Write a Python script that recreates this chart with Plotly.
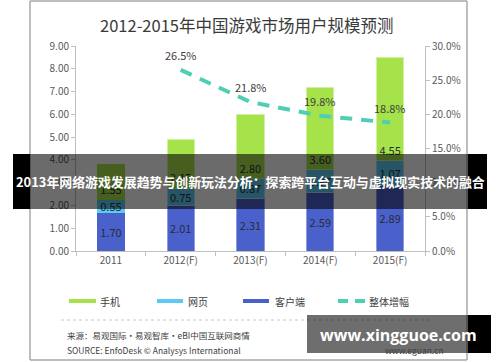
import plotly.graph_objects as go

categories = ["2011", "2012(F)", "2013(F)", "2014(F)", "2015(F)"]
client = [1.70, 2.01, 2.31, 2.59, 2.89]
web = [0.55, 0.75, 0.87, 0.97, 1.07]
mobile = [1.55, 2.15, 2.80, 3.60, 4.55]
growth_cats = ["2012(F)", "2013(F)", "2014(F)", "2015(F)"]
growth = [26.5, 21.8, 19.8, 18.8]
series_names = ["手机", "网页", "客户端", "整体增幅"]

title = "2012-2015年中国游戏市场用户规模预测"
banner = "2013年网络游戏发展趋势与创新玩法分析：探索跨平台互动与虚拟现实技术的融合"
source_cn = "来源：易观国际·易观智库·eBI中国互联网商情"
source_en = "SOURCE: EnfoDesk © Analysys International"
site = "www.eguan.cn"
watermark = "www.xingguoe.com"

C_MOBILE = "#A6E34B"
C_WEB = "#5CCBF1"
C_CLIENT = "#4A61CB"
C_LINE = "#4FCFB1"
FONT = "Noto Sans CJK SC, Noto Sans, sans-serif"

W, H = 500, 362
L, R, T, B = 76, 75, 46, 111
PW, PH = W - L - R, H - T - B


def X(px):
    return (px - L) / PW


def Y(py):
    return (H - B - py) / PH


fig = go.Figure()
lab_font = dict(size=11, color="#2b2b38", family=FONT)


def outline(c, light):
    return [c] + [light] * (len(categories) - 1)


fig.add_trace(go.Bar(x=categories, y=client, name=series_names[2], marker_color=C_CLIENT,
                     marker_line=dict(color=outline(C_CLIENT, "#8d9be0"), width=1),
                     text=[f"{v:.2f}" for v in client], textposition="inside", textangle=0,
                     insidetextanchor="middle", textfont=lab_font, showlegend=False))
fig.add_trace(go.Bar(x=categories, y=web, name=series_names[1], marker_color=C_WEB,
                     marker_line=dict(color=outline(C_WEB, "#a6e3f7"), width=1),
                     text=[f"{v:.2f}" for v in web], textposition="inside", textangle=0,
                     insidetextanchor="middle", textfont=lab_font, showlegend=False))
fig.add_trace(go.Bar(x=categories, y=mobile, name=series_names[0], marker_color=C_MOBILE,
                     marker_line=dict(color=outline(C_MOBILE, "#d2f19f"), width=1),
                     text=[f"{v:.2f}" for v in mobile], textposition="inside", textangle=0,
                     insidetextanchor="start", textfont=lab_font, showlegend=False))
fig.add_trace(go.Scatter(x=growth_cats, y=growth, yaxis="y2", name=series_names[3],
                         mode="lines", line=dict(color=C_LINE, width=4, dash="12px,9px"),
                         showlegend=False, cliponaxis=False))

shapes = []
annotations = []

for c, v in zip(growth_cats, growth):
    annotations.append(dict(x=c, y=v, xref="x", yref="y2", text=f"{v:.1f}%", showarrow=False,
                            yshift=15, xanchor="center", yanchor="middle",
                            font=dict(size=11, color="#404040", family=FONT)))

# frame
for x0, y0, x1, y1 in [(30, 1, 467, 1), (30, 360, 467, 360), (30, 1, 30, 360), (467, 1, 467, 360)]:
    shapes.append(dict(type="line", xref="paper", yref="paper", x0=X(x0), y0=Y(y0), x1=X(x1), y1=Y(y1),
                       line=dict(color="#a8a8a8", width=1.5), layer="above"))

# legend
leg = [(69, 96, C_MOBILE, 98), (157, 183, C_WEB, 186), (243, 269, C_CLIENT, 273)]
for i, (a, b, c, tx) in enumerate(leg):
    shapes.append(dict(type="line", xref="paper", yref="paper", x0=X(a), x1=X(b), y0=Y(301), y1=Y(301),
                       line=dict(color=c, width=4)))
    annotations.append(dict(x=X(tx), y=Y(301), xref="paper", yref="paper", text=series_names[i],
                            showarrow=False, xanchor="left", yanchor="middle",
                            font=dict(size=10, color="#404040", family=FONT)))
for a, b in [(338, 348), (355, 365)]:
    shapes.append(dict(type="line", xref="paper", yref="paper", x0=X(a), x1=X(b), y0=Y(301), y1=Y(301),
                       line=dict(color=C_LINE, width=4)))
annotations.append(dict(x=X(367), y=Y(301), xref="paper", yref="paper", text=series_names[3],
                        showarrow=False, xanchor="left", yanchor="middle",
                        font=dict(size=10, color="#404040", family=FONT)))

# separator
shapes.append(dict(type="line", xref="paper", yref="paper", x0=X(61), x1=X(430), y0=Y(320), y1=Y(320),
                   line=dict(color="#c8c8c8", width=1, dash="dot")))

# title & source
annotations.append(dict(x=X(247), y=Y(25), xref="paper", yref="paper", text=title, showarrow=False,
                        xanchor="center", yanchor="middle", font=dict(size=16.5, color="#3a3a3a", family=FONT)))
annotations.append(dict(x=X(65), y=Y(335), xref="paper", yref="paper", text=source_cn, showarrow=False,
                        xanchor="left", yanchor="middle", font=dict(size=8.5, color="#404040", family=FONT)))
annotations.append(dict(x=X(65), y=Y(350), xref="paper", yref="paper", text=source_en, showarrow=False,
                        xanchor="left", yanchor="middle", font=dict(size=8.5, color="#404040", family=FONT)))

# banner overlay
shapes.append(dict(type="rect", xref="paper", yref="paper", x0=X(13), x1=X(487), y0=Y(154), y1=Y(209),
                   fillcolor="rgba(0,0,0,0.58)", line=dict(width=0), layer="above"))
for a, b in [(13, 30), (468, 487)]:
    shapes.append(dict(type="rect", xref="paper", yref="paper", x0=X(a), x1=X(b), y0=Y(154), y1=Y(209),
                       fillcolor="#000000", line=dict(width=0), layer="above"))
annotations.append(dict(x=X(250), y=Y(182), xref="paper", yref="paper", text="<b>" + banner + "</b>",
                        showarrow=False, xanchor="center", yanchor="middle",
                        font=dict(size=12.9, color="#ffffff", family=FONT)))

# watermark box
annotations.append(dict(x=X(383), y=Y(350), xref="paper", yref="paper", text=site, showarrow=False,
                        xanchor="left", yanchor="middle", font=dict(size=8.5, color="#404040", family=FONT)))
shapes.append(dict(type="rect", xref="paper", yref="paper", x0=X(307), x1=X(468), y0=Y(315), y1=Y(353),
                   fillcolor="rgba(0,0,0,0.57)", line=dict(width=0), layer="above"))
shapes.append(dict(type="rect", xref="paper", yref="paper", x0=X(468), x1=X(491), y0=Y(315), y1=Y(353),
                   fillcolor="#000000", line=dict(width=0), layer="above"))
annotations.append(dict(x=X(398), y=Y(335), xref="paper", yref="paper", text="<b>" + watermark + "</b>",
                        showarrow=False, xanchor="center", yanchor="middle",
                        font=dict(size=16, color="#ffffff", family="Open Sans, DejaVu Sans, sans-serif")))

axis_col = "#bfbfbf"
tick_font = dict(size=10, color="#595959", family=FONT)
fig.update_layout(
    width=W, height=H, margin=dict(l=L, r=R, t=T, b=B, autoexpand=False),
    paper_bgcolor="white", plot_bgcolor="white",
    barmode="stack", bargap=0.61, showlegend=False,
    uniformtext=dict(mode="show", minsize=11),
    font=dict(family=FONT),
    xaxis=dict(type="category", showline=True, linecolor=axis_col, ticks="outside", ticklen=4,
               tickcolor=axis_col, tickson="boundaries", tickfont=tick_font, showgrid=False),
    yaxis=dict(range=[0, 9], dtick=1, tickformat=".2f", showline=True, linecolor=axis_col,
               ticks="outside", ticklen=4, tickcolor=axis_col, tickfont=tick_font,
               showgrid=False, zeroline=False),
    yaxis2=dict(range=[0, 30], dtick=5, tickformat=".1f", ticksuffix="%", overlaying="y", side="right",
                showline=True, linecolor=axis_col, ticks="outside", ticklen=4, tickcolor=axis_col,
                tickfont=tick_font, showgrid=False, zeroline=False),
    shapes=shapes, annotations=annotations,
)

fig.write_html("out.html", config={"displayModeBar": False},
               post_script="document.body.style.margin='0';")
